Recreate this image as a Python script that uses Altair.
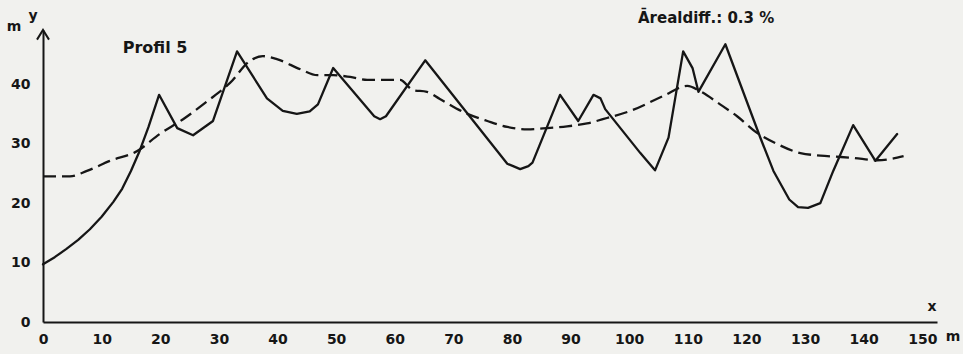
import altair as alt
import pandas as pd

# Terrain profile (solid line)
profile_x = [0, 2, 4, 6, 8, 10, 12, 13.5, 15, 16.5, 18, 19.8, 22.9, 25.6, 29.0, 33.1,
             38.2, 40.9, 43.3, 45.5, 46.9, 49.5, 56.5, 57.5, 58.5, 65.2, 79.2, 80.2,
             81.4, 82.8, 83.5, 88.2, 91.3, 93.9, 95.1, 95.9, 101.9, 104.4, 106.7,
             109.2, 110.8, 111.8, 116.4, 122.4, 124.6, 127.3, 128.8, 130.5, 132.6,
             134.8, 138.2, 142.0, 145.7]
profile_y = [9.7, 10.9, 12.3, 13.8, 15.6, 17.7, 20.2, 22.4, 25.4, 28.8, 32.8, 38.2,
             32.6, 31.4, 33.8, 45.5,
             37.6, 35.5, 35.0, 35.4, 36.6, 42.7, 34.6, 34.1, 34.6, 44.0, 26.6, 26.2,
             25.7, 26.2, 26.8, 38.2, 33.8, 38.2, 37.6, 35.8, 28.4, 25.5, 31.0,
             45.5, 42.7, 38.7, 46.7, 30.9, 25.4, 20.6, 19.3, 19.2, 20.0,
             25.4, 33.1, 27.1, 31.6]

# Smoothed / fitted profile (dashed line)
trend_x = [0, 4.6, 7.5, 11.4, 16.0, 19.9, 23.9, 28.0, 31.9, 35.3, 37.5, 39.9, 43.9,
           46.8, 49.5, 52.4, 55.3, 60.9, 63.1, 65.5, 67.7, 72.4, 75.8, 79.2, 82.6,
           86.0, 89.4, 92.8, 96.2, 100.2, 105.8, 109.9, 112.1, 115.5, 118.4, 121.8,
           125.3, 129.2, 133.8, 138.2, 142.3, 146.8]
trend_y = [24.5, 24.5, 25.4, 27.1, 28.7, 31.6, 34.1, 37.1, 40.2, 43.9, 44.7, 44.2, 42.5,
           41.5, 41.5, 41.2, 40.7, 40.7, 39.0, 38.7, 37.5, 35.0, 33.8, 32.8, 32.4,
           32.6, 32.9, 33.4, 34.3, 35.5, 38.0, 39.7, 38.8, 36.6, 34.6, 31.8,
           29.9, 28.4, 27.9, 27.6, 27.2, 27.9]

x_ticks = [0, 10, 20, 30, 40, 50, 60, 70, 80, 90, 100, 110, 120, 130, 140, 150]
y_ticks = [0, 10, 20, 30, 40]

title_text = "Profil 5"
area_text = "Ārealdiff.: 0.3 %"

INK = "#161616"
FONT = "DejaVu Sans"

prof = pd.DataFrame({"x": profile_x, "y": profile_y})
trend = pd.DataFrame({"x": trend_x, "y": trend_y})

xs = alt.Scale(domain=[0, 152.5], nice=False, zero=False)
ys = alt.Scale(domain=[0, 49.1], nice=False, zero=False)

x_axis = alt.Axis(values=x_ticks, ticks=False, grid=False, domainColor=INK,
                  domainWidth=2, labelFont=FONT, labelFontWeight="bold",
                  labelFontSize=14, labelColor=INK, labelPadding=10, title=None,
                  labelFlush=False)
y_axis = alt.Axis(values=y_ticks, ticks=False, grid=False, domainColor=INK,
                  domainWidth=2, labelFont=FONT, labelFontWeight="bold",
                  labelFontSize=14, labelColor=INK, labelPadding=13, title=None,
                  labelFlush=False)

solid = alt.Chart(prof).mark_line(color=INK, strokeWidth=2.3, strokeJoin="round",
                                  strokeCap="round").encode(
    x=alt.X("x:Q", scale=xs, axis=x_axis),
    y=alt.Y("y:Q", scale=ys, axis=y_axis),
    order="x:Q",
)

dashed = alt.Chart(trend).mark_line(color=INK, strokeWidth=2.3, strokeDash=[13, 6],
                                    interpolate="monotone").encode(
    x=alt.X("x:Q", scale=xs),
    y=alt.Y("y:Q", scale=ys),
    order="x:Q",
)

arrow_df = pd.DataFrame({"x": [0], "y": [49.1]})
arrow = alt.Chart(arrow_df).mark_point(shape="M-1,1.6L0,0L1,1.6", filled=False,
                                       stroke=INK, strokeWidth=2, size=144,
                                       opacity=1).encode(
    x=alt.X("x:Q", scale=xs), y=alt.Y("y:Q", scale=ys))


def label(txt, px, py, size=14, align="center"):
    return alt.Chart(pd.DataFrame({"t": [txt]})).mark_text(
        font=FONT, fontWeight="bold", fontSize=size, color=INK, align=align,
        baseline="middle").encode(text="t:N", x=alt.value(px), y=alt.value(py))


labels = [
    label("m", -29, -3),
    label("y", -10, -14),
    label("x", 889, 277),
    label("m", 910, 307),
    label(title_text, 112, 18, size=16),
    label(area_text, 595, -12, size=15, align="left"),
]

chart = alt.layer(dashed, solid, arrow, *labels).properties(
    width=894, height=292,
    autosize=alt.AutoSizeParams(type="none"),
    padding={"left": 43, "top": 30, "right": 26, "bottom": 32},
    background="#f1f1ee",
).configure_view(stroke=None)

chart.save("out.html", embed_options={"renderer": "svg", "actions": False})
